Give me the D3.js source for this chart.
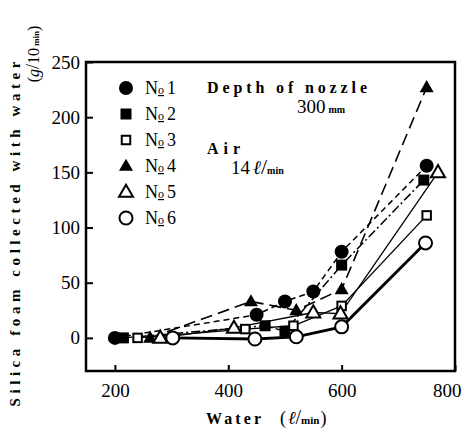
<!DOCTYPE html>
<html>
<head>
<meta charset="utf-8">
<script src="https://cdn.jsdelivr.net/npm/d3@7"></script>
<style>
  html, body { margin: 0; padding: 0; background: #fff; }
  svg { display: block; }
</style>
</head>
<body>
<svg id="chart" width="462" height="440"></svg>
<script>
// ---- data ----
const seriesNames = ["1", "2", "3", "4", "5", "6"];
const markerKinds = ["circleFilled", "squareFilled", "squareOpen", "triFilled", "triOpen", "circleOpen"];
const water1 = [200, 450, 500, 550, 600, 750];
const foam1  = [0, 21, 33, 42, 78, 156];
const water2 = [215, 465, 500, 600, 745];
const foam2  = [0, 11, 6, 66, 143];
const water3 = [240, 430, 515, 600, 750];
const foam3  = [0, 8, 11, 29, 111];
const water4 = [262, 440, 520, 600, 750];
const foam4  = [0, 33, 25, 44, 227];
const water5 = [280, 410, 550, 598, 770];
const foam5  = [0, 9, 23, 22, 150];
const water6 = [302, 447, 520, 600, 748];
const foam6  = [0, -1, 1, 10, 86];
const xTicks = [200, 400, 600, 800];
const yTicks = [0, 50, 100, 150, 200, 250];

const waters = [water1, water2, water3, water4, water5, water6];
const foams = [foam1, foam2, foam3, foam4, foam5, foam6];
const dashes = ["6,4", "9,3,2,3", null, "12,6", null, null];
const widths = [1.5, 1.5, 1.3, 1.6, 1.3, 2.8];

const svg = d3.select("#chart");
const L = 86, R = 455, T = 62, B = 371;
const x = d3.scaleLinear().domain([149, 800]).range([L, R]);
const y = d3.scaleLinear().domain([-30, 250]).range([B, T]);

const serif = "'Liberation Serif', 'DejaVu Serif', serif";

// lines
const line = d3.line().x(d => x(d[0])).y(d => y(d[1]));
waters.forEach((ws, i) => {
  const pts = ws.map((w, j) => [w, foams[i][j]]);
  svg.append("path")
    .attr("d", line(pts))
    .attr("fill", "none")
    .attr("stroke", "#000")
    .attr("stroke-width", widths[i])
    .attr("stroke-dasharray", dashes[i]);
});

// markers
function drawMarker(g, kind, cx, cy) {
  if (kind === "circleFilled") {
    g.append("circle").attr("cx", cx).attr("cy", cy).attr("r", 7).attr("fill", "#000");
  } else if (kind === "circleOpen") {
    g.append("circle").attr("cx", cx).attr("cy", cy).attr("r", 6.5)
      .attr("fill", "#fff").attr("stroke", "#000").attr("stroke-width", 2);
  } else if (kind === "squareFilled") {
    const s = 11;
    g.append("rect").attr("x", cx - s / 2).attr("y", cy - s / 2).attr("width", s).attr("height", s).attr("fill", "#000");
  } else if (kind === "squareOpen") {
    const s = 8.5;
    g.append("rect").attr("x", cx - s / 2).attr("y", cy - s / 2).attr("width", s).attr("height", s)
      .attr("fill", "#fff").attr("stroke", "#000").attr("stroke-width", 2);
  } else {
    const s = 14, h = s * 0.87;
    const p = `M${cx},${cy - h * 0.6}L${cx + s / 2},${cy + h * 0.4}L${cx - s / 2},${cy + h * 0.4}Z`;
    const el = g.append("path").attr("d", p);
    if (kind === "triFilled") el.attr("fill", "#000");
    else el.attr("fill", "#fff").attr("stroke", "#000").attr("stroke-width", 2);
  }
}
const mk = svg.append("g");
waters.forEach((ws, i) => {
  ws.forEach((w, j) => drawMarker(mk, markerKinds[i], x(w), y(foams[i][j])));
});

// frame
svg.append("rect").attr("x", L).attr("y", T).attr("width", R - L).attr("height", B - T)
  .attr("fill", "none").attr("stroke", "#000").attr("stroke-width", 2.5);

// axes
const yAxis = d3.axisLeft(y).tickValues(yTicks).tickSize(-7).tickPadding(6);
const gy = svg.append("g").attr("transform", `translate(${L},0)`).call(yAxis);
gy.select(".domain").remove();
gy.selectAll("line").attr("stroke-width", 2);
gy.selectAll("text").attr("font-family", serif).attr("font-size", 19).attr("fill", "#000");

const xAxis = d3.axisBottom(x).tickValues(xTicks).tickSize(-6).tickPadding(13);
const gx = svg.append("g").attr("transform", `translate(0,${B})`).call(xAxis);
gx.select(".domain").remove();
gx.selectAll("line").attr("stroke-width", 2);
gx.selectAll("text").attr("font-family", serif).attr("font-size", 19).attr("fill", "#000");
// keep the last label inside the page edge
gx.selectAll(".tick").filter(d => d === 800).select("text")
  .attr("text-anchor", "end").attr("x", 461 - x(800));

// legend
const legY0 = 88, legStep = 26;
seriesNames.forEach((n, i) => {
  const yy = legY0 + i * legStep;
  drawMarker(svg, markerKinds[i], 126, yy);
  const t = svg.append("text").attr("x", 145).attr("y", yy + 6)
    .attr("font-family", serif).attr("font-size", 18).attr("fill", "#000");
  t.append("tspan").text("N");
  t.append("tspan").attr("font-size", 12).attr("text-decoration", "underline").text("o");
  t.append("tspan").attr("dx", 3).text(n);
});

// annotations
svg.append("text").attr("x", 207).attr("y", 93)
  .attr("font-family", serif).attr("font-weight", "bold").attr("font-size", 16)
  .attr("textLength", 160).attr("lengthAdjust", "spacing").text("Depth of nozzle");
const t300 = svg.append("text").attr("x", 297).attr("y", 113)
  .attr("font-family", serif).attr("font-size", 19);
t300.append("tspan").text("300");
t300.append("tspan").attr("dx", 3).attr("font-size", 10).attr("font-weight", "bold").text("mm");

svg.append("text").attr("x", 207).attr("y", 154)
  .attr("font-family", serif).attr("font-weight", "bold").attr("font-size", 16)
  .attr("textLength", 33).attr("lengthAdjust", "spacing").text("Air");
const t14 = svg.append("text").attr("x", 231).attr("y", 174)
  .attr("font-family", serif).attr("font-size", 19);
t14.append("tspan").text("14");
t14.append("tspan").attr("dx", 3).attr("font-style", "italic").text("ℓ");
t14.append("tspan").attr("font-size", 22).text("/");
t14.append("tspan").attr("font-size", 10).attr("font-weight", "bold").text("min");

// x title
svg.append("text").attr("x", 206).attr("y", 424)
  .attr("font-family", serif).attr("font-weight", "bold").attr("font-size", 16)
  .attr("textLength", 55).attr("lengthAdjust", "spacing").text("Water");
const xu = svg.append("text").attr("x", 280).attr("y", 424)
  .attr("font-family", serif).attr("font-size", 18);
xu.append("tspan").text("(");
xu.append("tspan").attr("font-style", "italic").attr("dx", 2).text("ℓ");
xu.append("tspan").attr("font-size", 20).text("/");
xu.append("tspan").attr("font-size", 11).attr("font-weight", "bold").text("min");
xu.append("tspan").attr("dx", 1).text(")");

// y title
svg.append("text").attr("transform", "translate(20,234) rotate(-90)")
  .attr("text-anchor", "middle")
  .attr("font-family", serif).attr("font-weight", "bold").attr("font-size", 15)
  .attr("textLength", 345).attr("lengthAdjust", "spacing")
  .text("Silica foam collected with water");
const yt2 = svg.append("text").attr("transform", "translate(39,54) rotate(-90)")
  .attr("text-anchor", "middle")
  .attr("font-family", serif).attr("font-size", 16);
yt2.append("tspan").text("(");
yt2.append("tspan").attr("font-style", "italic").text("g");
yt2.append("tspan").attr("font-size", 18).text("/");
yt2.append("tspan").text("10");
yt2.append("tspan").attr("dx", 2).attr("font-size", 9).attr("font-weight", "bold").text("min");
yt2.append("tspan").text(")");
</script>
</body>
</html>
